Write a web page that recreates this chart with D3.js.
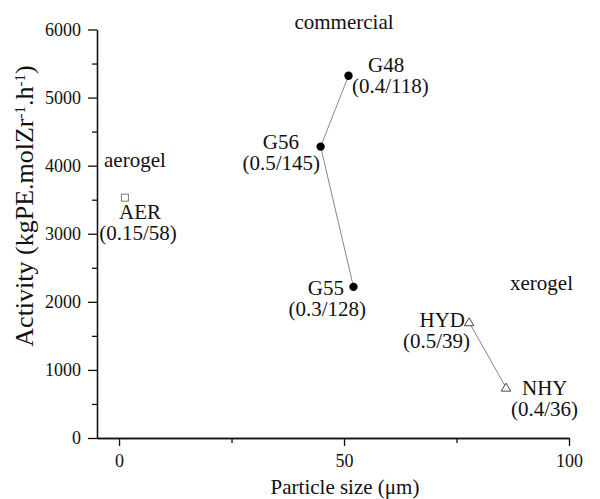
<!DOCTYPE html>
<html>
<head>
<meta charset="utf-8">
<script src="https://d3js.org/d3.v7.min.js"></script>
<style>
  body { margin: 0; background: #fff; }
  text { font-family: "Liberation Serif", "Times New Roman", serif; fill: #111; }
</style>
</head>
<body>
<div id="chart"></div>
<script>
// samples
var names    = ["G48", "G56", "G55", "AER", "HYD", "NHY"];
var notes    = ["(0.4/118)", "(0.5/145)", "(0.3/128)", "(0.15/58)", "(0.5/39)", "(0.4/36)"];
var groups   = ["commercial", "commercial", "commercial", "aerogel", "xerogel", "xerogel"];
var sizes    = [51, 44.8, 52.1, 1.3, 77.8, 86.0];
var activity = [5320, 4280, 2220, 3530, 1700, 740];

var xTicks = [0, 50, 100];
var xMinor = [25, 75];
var yTicks = [0, 1000, 2000, 3000, 4000, 5000, 6000];
var yMinor = [500, 1500, 2500, 3500, 4500, 5500];

var width = 600, height = 499;

var svg = d3.select("#chart")
    .append("svg")
    .attr("width", width)
    .attr("height", height)

var x = d3.scaleLinear().domain([-4.9, 100]).range([97, 569]);
var y = d3.scaleLinear().domain([0, 6000]).range([438, 29.5]);

// axes: minor ticks first, then the labelled ones
svg.append("g")
    .attr("transform", "translate(0,438)")
    .call(d3.axisBottom(x).tickValues(xMinor).tickSize(5).tickFormat("").tickSizeOuter(0));
svg.append("g")
    .attr("transform", "translate(0,438)")
    .call(d3.axisBottom(x).tickValues(xTicks).tickSize(8).tickPadding(8).tickSizeOuter(0)
        .tickFormat(d3.format("d")));

svg.append("g")
    .attr("transform", "translate(97,0)")
    .call(d3.axisLeft(y).tickValues(yMinor).tickSize(5).tickFormat("").tickSizeOuter(0));
svg.append("g")
    .attr("transform", "translate(97,0)")
    .call(d3.axisLeft(y).tickValues(yTicks).tickSize(9).tickPadding(7).tickSizeOuter(0)
        .tickFormat(d3.format("d")));

svg.selectAll("g")
    .attr("font-family", "Liberation Serif, Times New Roman, serif")
    .attr("font-size", 18);
svg.selectAll(".domain, .tick line").attr("stroke", "#111").attr("stroke-width", 1.3);
svg.selectAll(".tick text").attr("fill", "#111");

// axis titles
svg.append("text")
    .attr("x", 345)
    .attr("y", 494)
    .attr("text-anchor", "middle")
    .style("font-size", "21px")
    .text("Particle size (\u03bcm)");

var ylab = svg.append("text")
    .attr("transform", "translate(33,206) rotate(-90)")
    .attr("text-anchor", "middle")
    .style("font-size", "26px");
ylab.append("tspan").text("Activity (kgPE.molZr");
ylab.append("tspan").attr("baseline-shift", "super").style("font-size", "15px").text("-1");
ylab.append("tspan").text(".h");
ylab.append("tspan").attr("baseline-shift", "super").style("font-size", "15px").text("-1");
ylab.append("tspan").text(")");

// connecting lines
var pts = d3.range(names.length).map(function (i) {
    return { name: names[i], note: notes[i], group: groups[i], x: sizes[i], y: activity[i] };
});
var line = d3.line().x(function (d) { return x(d.x); }).y(function (d) { return y(d.y); });

["commercial", "xerogel"].forEach(function (g) {
    svg.append("path")
        .datum(pts.filter(function (d) { return d.group == g; }))
        .attr("d", line)
        .attr("fill", "none")
        .attr("stroke", "#888")
        .attr("stroke-width", 1);
});

// markers
pts.forEach(function (d) {
    var cx = x(d.x), cy = y(d.y);
    if (d.group == "commercial") {
        svg.append("circle").attr("cx", cx).attr("cy", cy).attr("r", 4.2).attr("fill", "#000");
    } else if (d.group == "aerogel") {
        svg.append("rect").attr("x", cx - 3.5).attr("y", cy - 3.5).attr("width", 7).attr("height", 7)
            .attr("fill", "#fff").attr("stroke", "#777").attr("stroke-width", 1);
    } else {
        svg.append("path")
            .attr("transform", "translate(" + cx + "," + cy + ")")
            .attr("d", "M0,-4.5L4.8,3.5L-4.8,3.5Z")
            .attr("fill", "#fff").attr("stroke", "#444").attr("stroke-width", 1);
    }
});

// point labels: [name x, name y, anchor, note x, note y, anchor]
var labelPos = {
    G48: [368, 72, "start", 352, 93, "start"],
    G56: [299, 149, "end", 320, 170, "end"],
    G55: [344, 295, "end", 366, 316, "end"],
    AER: [140, 219, "middle", 138, 240, "middle"],
    HYD: [465, 327, "end", 470, 348, "end"],
    NHY: [522, 395, "start", 578, 416, "end"]
};
pts.forEach(function (d) {
    var p = labelPos[d.name];
    svg.append("text").attr("x", p[0]).attr("y", p[1]).attr("text-anchor", p[2])
        .style("font-size", "21px").text(d.name);
    svg.append("text").attr("x", p[3]).attr("y", p[4]).attr("text-anchor", p[5])
        .style("font-size", "21px").text(d.note);
});

// group names
svg.append("text").attr("x", 344).attr("y", 29).attr("text-anchor", "middle")
    .style("font-size", "21px").text("commercial");
svg.append("text").attr("x", 104).attr("y", 167)
    .style("font-size", "21px").text("aerogel");
svg.append("text").attr("x", 510).attr("y", 290)
    .style("font-size", "21px").text("xerogel");
</script>
</body>
</html>
